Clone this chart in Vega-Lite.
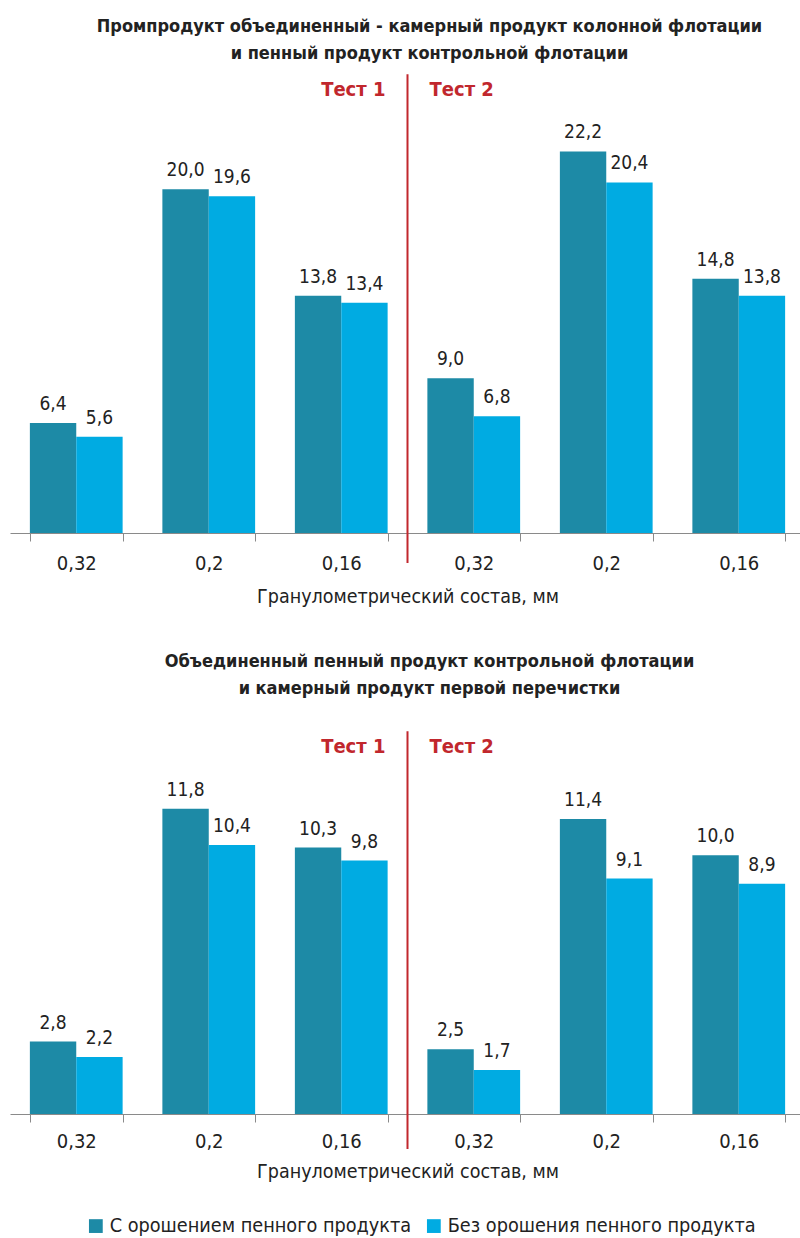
{
  "$schema": "https://vega.github.io/schema/vega-lite/v6.json",
  "padding": {"left": 10, "top": 18, "right": 0, "bottom": 0},
  "spacing": 47,
  "background": "white",
  "config": {
    "font": "DejaVu Sans Condensed, Roboto",
    "view": {"stroke": null},
    "locale": {"number": {"decimal": ",", "thousands": " ", "grouping": [3], "currency": ["", ""]}},
    "title": {"font": "DejaVu Sans Condensed, Roboto", "fontSize": 18, "fontWeight": "bold", "color": "#222222", "lineHeight": 27, "anchor": "middle", "dx": 22},
    "axis": {"labelFont": "DejaVu Sans Condensed, Roboto", "titleFont": "DejaVu Sans Condensed, Roboto"},
    "legend": {"labelFont": "DejaVu Sans Condensed, Roboto"}
  },
  "datasets": {
    "d": [
      {"panel": 1, "g": "1|0,32", "s": "С орошением пенного продукта", "v": 6.4},
      {"panel": 1, "g": "1|0,32", "s": "Без орошения пенного продукта", "v": 5.6},
      {"panel": 1, "g": "1|0,2", "s": "С орошением пенного продукта", "v": 20.0},
      {"panel": 1, "g": "1|0,2", "s": "Без орошения пенного продукта", "v": 19.6},
      {"panel": 1, "g": "1|0,16", "s": "С орошением пенного продукта", "v": 13.8},
      {"panel": 1, "g": "1|0,16", "s": "Без орошения пенного продукта", "v": 13.4},
      {"panel": 1, "g": "2|0,32", "s": "С орошением пенного продукта", "v": 9.0},
      {"panel": 1, "g": "2|0,32", "s": "Без орошения пенного продукта", "v": 6.8},
      {"panel": 1, "g": "2|0,2", "s": "С орошением пенного продукта", "v": 22.2},
      {"panel": 1, "g": "2|0,2", "s": "Без орошения пенного продукта", "v": 20.4},
      {"panel": 1, "g": "2|0,16", "s": "С орошением пенного продукта", "v": 14.8},
      {"panel": 1, "g": "2|0,16", "s": "Без орошения пенного продукта", "v": 13.8},
      {"panel": 2, "g": "1|0,32", "s": "С орошением пенного продукта", "v": 2.8},
      {"panel": 2, "g": "1|0,32", "s": "Без орошения пенного продукта", "v": 2.2},
      {"panel": 2, "g": "1|0,2", "s": "С орошением пенного продукта", "v": 11.8},
      {"panel": 2, "g": "1|0,2", "s": "Без орошения пенного продукта", "v": 10.4},
      {"panel": 2, "g": "1|0,16", "s": "С орошением пенного продукта", "v": 10.3},
      {"panel": 2, "g": "1|0,16", "s": "Без орошения пенного продукта", "v": 9.8},
      {"panel": 2, "g": "2|0,32", "s": "С орошением пенного продукта", "v": 2.5},
      {"panel": 2, "g": "2|0,32", "s": "Без орошения пенного продукта", "v": 1.7},
      {"panel": 2, "g": "2|0,2", "s": "С орошением пенного продукта", "v": 11.4},
      {"panel": 2, "g": "2|0,2", "s": "Без орошения пенного продукта", "v": 9.1},
      {"panel": 2, "g": "2|0,16", "s": "С орошением пенного продукта", "v": 10.0},
      {"panel": 2, "g": "2|0,16", "s": "Без орошения пенного продукта", "v": 8.9}
    ]
  },
  "vconcat": [
    {
      "title": {"text": ["Промпродукт объединенный - камерный продукт колонной флотации", "и пенный продукт контрольной флотации"], "offset": 6},
      "width": 795,
      "height": 464,
      "layer": [
        {
          "data": {"name": "d"},
          "transform": [{"filter": "datum.panel == 1"}],
          "layer": [
            {
              "mark": {"type": "bar"},
              "encoding": {
                "x": {"field": "g", "type": "nominal", "sort": null,
                  "scale": {"paddingInner": 0.3, "paddingOuter": 0.15},
                  "axis": {"title": "Гранулометрический состав, мм", "labelExpr": "split(datum.label, '|')[1]", "labelAngle": 0, "tickBand": "extent", "domainColor": "#8a8a8a", "tickColor": "#8a8a8a", "tickSize": 8, "labelFontSize": 20, "labelColor": "#222222", "labelPadding": 12, "titleFontSize": 19.5, "titleFontWeight": "normal", "titleColor": "#222222", "titlePadding": 14}},
                "xOffset": {"field": "s", "type": "nominal", "sort": ["С орошением пенного продукта", "Без орошения пенного продукта"]},
                "y": {"field": "v", "type": "quantitative", "scale": {"domain": [0, 27], "nice": false}, "axis": null},
                "color": {"field": "s", "type": "nominal", "scale": {"domain": ["С орошением пенного продукта", "Без орошения пенного продукта"], "range": ["#1d8aa6", "#00abe2"]},
                  "legend": {"orient": "none", "legendX": 76, "legendY": 1147, "direction": "horizontal", "title": null, "symbolType": "square", "symbolSize": 190, "symbolStrokeWidth": 0, "labelFontSize": 19.7, "labelColor": "#222222", "labelLimit": 0, "labelOffset": 4, "columnPadding": 12}}
              }
            },
            {
              "mark": {"type": "text", "baseline": "alphabetic", "dy": -13, "fontSize": 19, "color": "#222222"},
              "encoding": {
                "x": {"field": "g", "type": "nominal", "sort": null},
                "xOffset": {"field": "s", "type": "nominal", "sort": ["С орошением пенного продукта", "Без орошения пенного продукта"]},
                "y": {"field": "v", "type": "quantitative"},
                "text": {"field": "v", "type": "quantitative", "format": ".1f"}
              }
            }
          ]
        },
        {
          "data": {"values": [{}]},
          "mark": {"type": "rule", "color": "#c1272d", "strokeWidth": 2},
          "encoding": {
            "x": {"datum": "1|0,16", "bandPosition": 1.2143},
            "y": {"datum": -1.75},
            "y2": {"datum": 26.7}
          }
        },
        {
          "data": {"values": [{}]},
          "mark": {"type": "text", "color": "#c1272d", "fontWeight": "bold", "fontSize": 20, "align": "right", "baseline": "middle", "dx": -22},
          "encoding": {
            "x": {"datum": "1|0,16", "bandPosition": 1.2143},
            "y": {"datum": 25.8},
            "text": {"value": "Тест 1"}
          }
        },
        {
          "data": {"values": [{}]},
          "mark": {"type": "text", "color": "#c1272d", "fontWeight": "bold", "fontSize": 20, "align": "left", "baseline": "middle", "dx": 22},
          "encoding": {
            "x": {"datum": "1|0,16", "bandPosition": 1.2143},
            "y": {"datum": 25.8},
            "text": {"value": "Тест 2"}
          }
        }
      ]
    },
    {
      "title": {"text": ["Объединенный пенный продукт контрольной флотации", "и камерный продукт первой перечистки"], "offset": 28},
      "width": 795,
      "height": 388,
      "layer": [
        {
          "data": {"name": "d"},
          "transform": [{"filter": "datum.panel == 2"}],
          "layer": [
            {
              "mark": {"type": "bar"},
              "encoding": {
                "x": {"field": "g", "type": "nominal", "sort": null,
                  "scale": {"paddingInner": 0.3, "paddingOuter": 0.15},
                  "axis": {"title": "Гранулометрический состав, мм", "labelExpr": "split(datum.label, '|')[1]", "labelAngle": 0, "tickBand": "extent", "domainColor": "#8a8a8a", "tickColor": "#8a8a8a", "tickSize": 8, "labelFontSize": 20, "labelColor": "#222222", "labelPadding": 9, "titleFontSize": 19.5, "titleFontWeight": "normal", "titleColor": "#222222", "titlePadding": 11}},
                "xOffset": {"field": "s", "type": "nominal", "sort": ["С орошением пенного продукта", "Без орошения пенного продукта"]},
                "y": {"field": "v", "type": "quantitative", "scale": {"domain": [0, 15], "nice": false}, "axis": null},
                "color": {"field": "s", "type": "nominal", "scale": {"domain": ["С орошением пенного продукта", "Без орошения пенного продукта"], "range": ["#1d8aa6", "#00abe2"]}}
              }
            },
            {
              "mark": {"type": "text", "baseline": "alphabetic", "dy": -13, "fontSize": 19, "color": "#222222"},
              "encoding": {
                "x": {"field": "g", "type": "nominal", "sort": null},
                "xOffset": {"field": "s", "type": "nominal", "sort": ["С орошением пенного продукта", "Без орошения пенного продукта"]},
                "y": {"field": "v", "type": "quantitative"},
                "text": {"field": "v", "type": "quantitative", "format": ".1f"}
              }
            }
          ]
        },
        {
          "data": {"values": [{}]},
          "mark": {"type": "rule", "color": "#c1272d", "strokeWidth": 2},
          "encoding": {
            "x": {"datum": "1|0,16", "bandPosition": 1.2143},
            "y": {"datum": -1.35},
            "y2": {"datum": 14.8}
          }
        },
        {
          "data": {"values": [{}]},
          "mark": {"type": "text", "color": "#c1272d", "fontWeight": "bold", "fontSize": 20, "align": "right", "baseline": "middle", "dx": -22},
          "encoding": {
            "x": {"datum": "1|0,16", "bandPosition": 1.2143},
            "y": {"datum": 14.2},
            "text": {"value": "Тест 1"}
          }
        },
        {
          "data": {"values": [{}]},
          "mark": {"type": "text", "color": "#c1272d", "fontWeight": "bold", "fontSize": 20, "align": "left", "baseline": "middle", "dx": 22},
          "encoding": {
            "x": {"datum": "1|0,16", "bandPosition": 1.2143},
            "y": {"datum": 14.2},
            "text": {"value": "Тест 2"}
          }
        }
      ]
    }
  ]
}
